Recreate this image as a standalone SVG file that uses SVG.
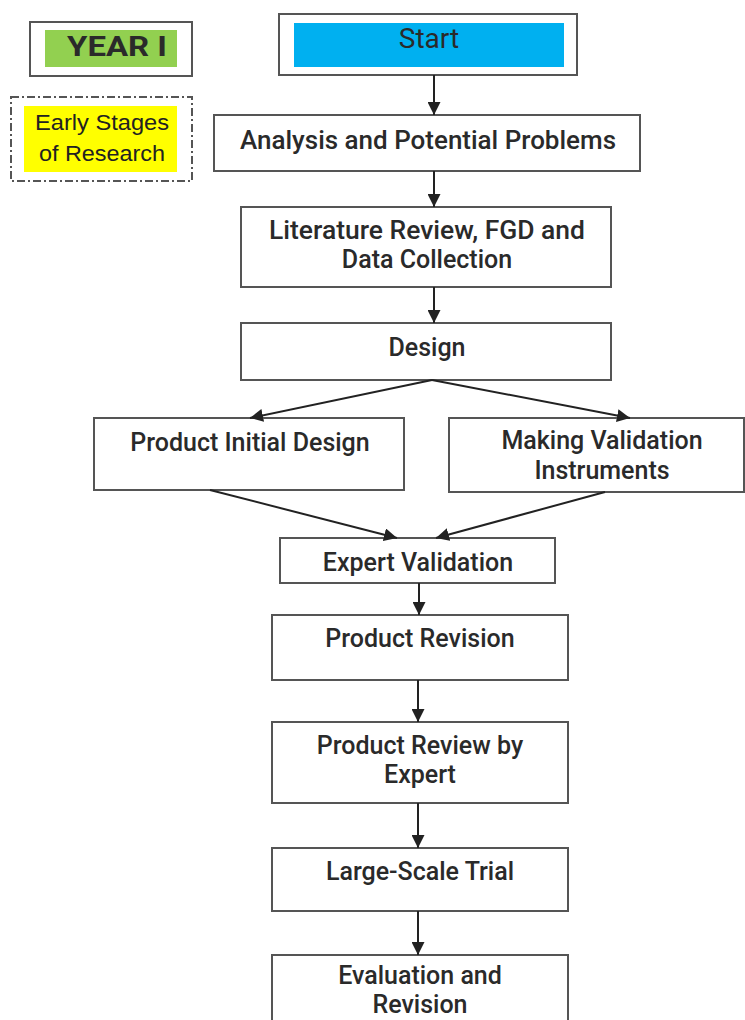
<svg xmlns="http://www.w3.org/2000/svg" width="745" height="1020" viewBox="0 0 745 1020">
<style>
.box{fill:#fff;stroke:#555;stroke-width:2}
.t{font-family:Roboto,"Liberation Sans",sans-serif;font-size:25px;font-weight:500;fill:#2a2a2a;text-anchor:middle}
.c{stroke:#222;stroke-width:2;fill:none;marker-end:url(#ah)}
</style>
<defs>
<marker id="ah" viewBox="0 0 10 10" refX="10" refY="5" markerWidth="6.5" markerHeight="6.5" markerUnits="strokeWidth" orient="auto">
<path d="M0,0 L10,5 L0,10 z" fill="#222"/>
</marker>
</defs>
<rect width="745" height="1020" fill="#fff"/>
<g id="year">
<rect class="box" x="30" y="22" width="162" height="54"/>
<rect x="45" y="30" width="132" height="37" fill="#92d050"/>
<text class="t" x="117" y="56" style="font-weight:700;font-size:27px" textLength="100" lengthAdjust="spacingAndGlyphs">YEAR I</text>
</g>
<g id="early">
<rect x="11" y="97" width="181" height="84" fill="#fff" stroke="#555" stroke-width="2" stroke-dasharray="8,3,2,3"/>
<rect x="24" y="106" width="153" height="66" fill="#ffff00"/>
<text x="102" y="130" style="font-family:'Liberation Sans',sans-serif;font-size:22px;fill:#222;text-anchor:middle" textLength="134" lengthAdjust="spacingAndGlyphs">Early Stages</text>
<text x="102" y="161" style="font-family:'Liberation Sans',sans-serif;font-size:22px;fill:#222;text-anchor:middle" textLength="126" lengthAdjust="spacingAndGlyphs">of Research</text>
</g>
<g id="start">
<rect class="box" x="279" y="14" width="298" height="61"/>
<rect x="294" y="23" width="270" height="44" fill="#00b0f0"/>
<text class="t" x="429" y="48" style="font-weight:400;font-size:28px">Start</text>
</g>
<g id="analysis">
<rect class="box" x="214" y="115" width="426" height="56"/>
<text class="t" x="428" y="149" textLength="376" lengthAdjust="spacingAndGlyphs">Analysis and Potential Problems</text>
</g>
<g id="literature">
<rect class="box" x="241" y="207" width="370" height="80"/>
<text class="t" x="427" y="239" textLength="316" lengthAdjust="spacingAndGlyphs">Literature Review, FGD and</text>
<text class="t" x="427" y="268">Data Collection</text>
</g>
<g id="design">
<rect class="box" x="241" y="323" width="370" height="57"/>
<text class="t" x="427" y="356">Design</text>
</g>
<g id="initial">
<rect class="box" x="94" y="418" width="310" height="72"/>
<text class="t" x="250" y="451">Product Initial Design</text>
</g>
<g id="instruments">
<rect class="box" x="449" y="418" width="295" height="74"/>
<text class="t" x="602" y="449">Making Validation</text>
<text class="t" x="602" y="479">Instruments</text>
</g>
<g id="expert">
<rect class="box" x="280" y="538" width="275" height="45"/>
<text class="t" x="418" y="571">Expert Validation</text>
</g>
<g id="revision">
<rect class="box" x="272" y="615" width="296" height="65"/>
<text class="t" x="420" y="647">Product Revision</text>
</g>
<g id="review">
<rect class="box" x="272" y="722" width="296" height="81"/>
<text class="t" x="420" y="754">Product Review by</text>
<text class="t" x="420" y="783">Expert</text>
</g>
<g id="trial">
<rect class="box" x="272" y="848" width="296" height="63"/>
<text class="t" x="420" y="880">Large-Scale Trial</text>
</g>
<g id="evaluation">
<rect class="box" x="272" y="955" width="296" height="70"/>
<text class="t" x="420" y="984">Evaluation and</text>
<text class="t" x="420" y="1013">Revision</text>
</g>
<g id="connectors">
<line class="c" x1="434" y1="75" x2="434" y2="115"/>
<line class="c" x1="434" y1="171" x2="434" y2="207"/>
<line class="c" x1="434" y1="287" x2="434" y2="323"/>
<line class="c" x1="432" y1="380" x2="250" y2="418"/>
<line class="c" x1="432" y1="380" x2="630" y2="418"/>
<line class="c" x1="210" y1="490" x2="397" y2="538"/>
<line class="c" x1="605" y1="492" x2="436" y2="538"/>
<line class="c" x1="419" y1="583" x2="419" y2="615"/>
<line class="c" x1="418" y1="680" x2="418" y2="722"/>
<line class="c" x1="418" y1="803" x2="418" y2="848"/>
<line class="c" x1="418" y1="911" x2="418" y2="955"/>
</g>
</svg>
